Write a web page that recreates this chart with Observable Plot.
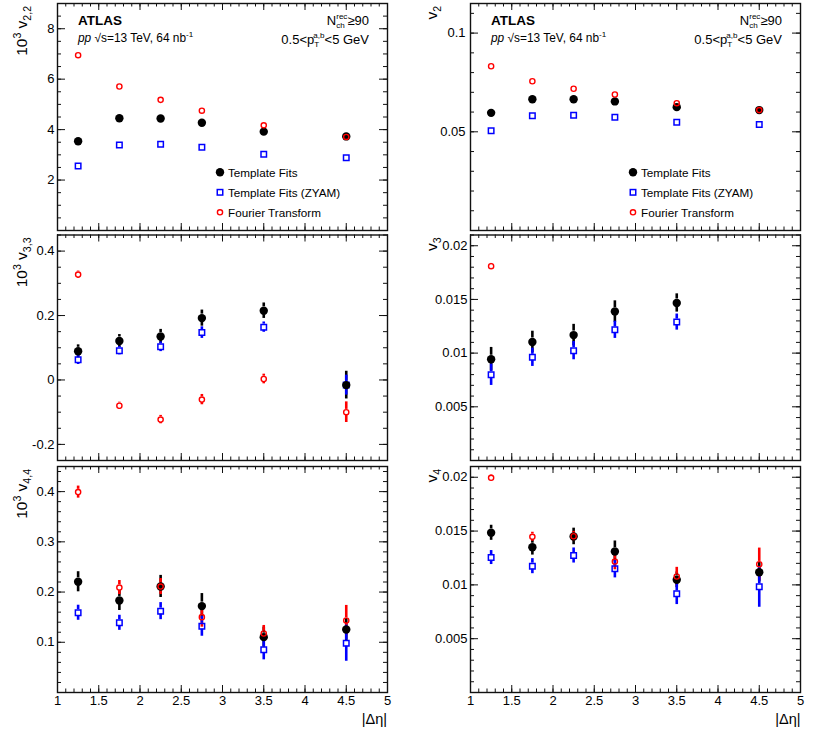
<!DOCTYPE html>
<html>
<head>
<meta charset="utf-8">
<script src="https://cdn.jsdelivr.net/npm/d3@7"></script>
<script src="https://cdn.jsdelivr.net/npm/@observablehq/plot@0.6"></script>
<style>
  html, body { margin: 0; padding: 0; background: #fff; }
  #chart { position: relative; width: 830px; height: 744px; overflow: hidden; }
  #chart > svg.panel { position: absolute; }
  #overlay { position: absolute; left: 0; top: 0; pointer-events: none; }
</style>
</head>
<body>
<div id="chart"></div>
<script>
// ---------------- data ----------------
const deta = [1.25, 1.75, 2.25, 2.75, 3.5, 4.5];

// 10^3 v_{2,2}
const v22_tf   = [3.54, 4.45, 4.44, 4.27, 3.92, 3.73];
const v22_zyam = [2.56, 3.39, 3.42, 3.30, 3.02, 2.88];
const v22_ft   = [6.95, 5.71, 5.18, 4.75, 4.17, 3.71];

// v_2
const v2_tf   = [0.0596, 0.0665, 0.0665, 0.0654, 0.0625, 0.0610];
const v2_zyam = [0.0505, 0.0581, 0.0584, 0.0574, 0.0549, 0.0537];
const v2_ft   = [0.0832, 0.0756, 0.0718, 0.0689, 0.0645, 0.0610];

// 10^3 v_{3,3}
const v33_tf       = [0.089, 0.121, 0.135, 0.192, 0.215, -0.016];
const v33_tf_err   = [0.020, 0.020, 0.022, 0.025, 0.024, 0.043];
const v33_zyam     = [0.063, 0.091, 0.103, 0.147, 0.164, -0.016];
const v33_zyam_err = [0.015, 0.013, 0.015, 0.018, 0.016, 0.031];
const v33_ft       = [0.327, -0.080, -0.123, -0.061, 0.003, -0.100];
const v33_ft_err   = [0.011, 0.011, 0.013, 0.016, 0.015, 0.032];

// v_3
const v3_tf       = [0.00943, 0.01104, 0.01168, 0.01387, 0.01467, null];
const v3_tf_err   = [0.0011, 0.0010, 0.0010, 0.0010, 0.00085, null];
const v3_zyam     = [0.00799, 0.00961, 0.01023, 0.01217, 0.01289, null];
const v3_zyam_err = [0.0010, 0.00085, 0.00085, 0.0008, 0.00075, null];
const v3_ft       = [0.01809, null, null, null, null, null];
const v3_ft_err   = [0.0002, null, null, null, null, null];

// 10^3 v_{4,4}
const v44_tf       = [0.2205, 0.1833, 0.2112, 0.1720, 0.1102, 0.1255];
const v44_tf_err   = [0.020, 0.020, 0.022, 0.025, 0.020, 0.022];
const v44_zyam     = [0.1588, 0.1388, 0.1620, 0.1320, 0.0850, 0.0982];
const v44_zyam_err = [0.015, 0.015, 0.017, 0.020, 0.020, 0.036];
const v44_ft       = [0.399, 0.209, 0.211, 0.150, 0.1175, 0.1434];
const v44_ft_err   = [0.012, 0.014, 0.016, 0.020, 0.016, 0.030];

// v_4
const v4_tf       = [0.01484, 0.01350, 0.01450, 0.01310, 0.01047, 0.01118];
const v4_tf_err   = [0.0007, 0.00073, 0.00077, 0.00098, 0.00073, 0.0009];
const v4_zyam     = [0.01254, 0.01174, 0.01273, 0.01150, 0.00917, 0.00982];
const v4_zyam_err = [0.00065, 0.0007, 0.0007, 0.00085, 0.0010, 0.0019];
const v4_ft       = [0.01995, 0.01447, 0.01452, 0.01217, 0.01078, 0.01192];
const v4_ft_err   = [0.0003, 0.00042, 0.00045, 0.00077, 0.00085, 0.0015];

// tick labels
const xTicks   = [1, 1.5, 2, 2.5, 3, 3.5, 4, 4.5, 5];
const yLab_v22 = [2, 4, 6, 8];
const yLab_v2  = [0.05, 0.1];
const yLab_v33 = [-0.2, 0, 0.2, 0.4];
const yLab_v3  = [0.005, 0.01, 0.015, 0.02];
const yLab_v44 = [0.1, 0.2, 0.3, 0.4];
const yLab_v4  = [0.005, 0.01, 0.015, 0.02];

const legendLabels = ["Template Fits", "Template Fits (ZYAM)", "Fourier Transform"];

// ---------------- helpers ----------------
const FONT = "'Liberation Sans', Arial, Helvetica, sans-serif";
const rng = (a, b, s) => d3.range(a, b + s / 1000, s).map(v => +v.toFixed(6));
const xMinor = rng(1, 5, 0.1);

function rows(vals, errs) {
  return deta.map((x, i) => ({x, y: vals[i], e: errs ? errs[i] : 0}))
             .filter(d => d.y != null);
}

const STYLE = {
  tf:   {color: "#000", gap: 4.0},
  zyam: {color: "#0000ff", gap: 3.0},
  ft:   {color: "#ff0000", gap: 2.8}
};

const panels = [
  {col: 0, row: 0, domain: [0, 9], labels: yLab_v22, major: [0, 2, 4, 6, 8], minor: rng(0, 9, 0.5),
   tf: rows(v22_tf), zyam: rows(v22_zyam), ft: rows(v22_ft),
   ylab: [["10"], ["3", "sup"], [" v"], ["2,2", "sub"]]},
  {col: 1, row: 0, domain: [0, 0.115], labels: yLab_v2, major: [0, 0.05, 0.1], minor: rng(0, 0.11, 0.01),
   tf: rows(v2_tf), zyam: rows(v2_zyam), ft: rows(v2_ft),
   ylab: [["v"], ["2", "sub"]]},
  {col: 0, row: 1, domain: [-0.25, 0.45], labels: yLab_v33, major: [-0.2, 0, 0.2, 0.4], minor: rng(-0.25, 0.45, 0.05),
   tf: rows(v33_tf, v33_tf_err), zyam: rows(v33_zyam, v33_zyam_err), ft: rows(v33_ft, v33_ft_err),
   ylab: [["10"], ["3", "sup"], [" v"], ["3,3", "sub"]]},
  {col: 1, row: 1, domain: [0, 0.021], labels: yLab_v3, major: [0, 0.005, 0.01, 0.015, 0.02], minor: rng(0, 0.021, 0.001),
   tf: rows(v3_tf, v3_tf_err), zyam: rows(v3_zyam, v3_zyam_err), ft: rows(v3_ft, v3_ft_err),
   ylab: [["v"], ["3", "sub"]]},
  {col: 0, row: 2, domain: [0, 0.45], labels: yLab_v44, major: [0, 0.1, 0.2, 0.3, 0.4], minor: rng(0, 0.44, 0.02),
   tf: rows(v44_tf, v44_tf_err), zyam: rows(v44_zyam, v44_zyam_err), ft: rows(v44_ft, v44_ft_err),
   ylab: [["10"], ["3", "sup"], [" v"], ["4,4", "sub"]]},
  {col: 1, row: 2, domain: [0, 0.021], labels: yLab_v4, major: [0, 0.005, 0.01, 0.015, 0.02], minor: rng(0, 0.021, 0.001),
   tf: rows(v4_tf, v4_tf_err), zyam: rows(v4_zyam, v4_zyam_err), ft: rows(v4_ft, v4_ft_err),
   ylab: [["v"], ["4", "sub"]]}
];

// layout (pixels)
const COL_LEFT = [0, 413];
const ROWS = [
  {top: 0,   height: 232, mt: 3,   mb: 2},
  {top: 232, height: 230, mt: 2.5, mb: 2},
  {top: 462, height: 282, mt: 4,   mb: 52}
];
const ML = 57, MR = 13, SVGW = 400;
const FRAME_W = SVGW - ML - MR;

// inward ticks on all four sides: tick marks spanning the frame, inset to a short length
function tickMarksY(values, len) {
  const base = {y: d => d, stroke: "#111", strokeWidth: 1};
  return [
    Plot.tickY(values, {...base, insetRight: FRAME_W - len}),
    Plot.tickY(values, {...base, insetLeft: FRAME_W - len})
  ];
}
function tickMarksX(values, len, frameH) {
  const base = {x: d => d, stroke: "#111", strokeWidth: 1};
  return [
    Plot.tickX(values, {...base, insetTop: frameH - len}),
    Plot.tickX(values, {...base, insetBottom: frameH - len})
  ];
}

function errBars(data, key) {
  const {color, gap} = STYLE[key];
  const d = data.filter(r => r.e > 0);
  const common = {x: "x", stroke: color, strokeWidth: 2.6};
  return [
    Plot.ruleX(d, {...common, y1: r => r.y + r.e, y2: "y", insetBottom: gap}),
    Plot.ruleX(d, {...common, y1: "y", y2: r => r.y - r.e, insetTop: gap})
  ];
}

const chart = document.getElementById("chart");

for (const p of panels) {
  const R = ROWS[p.row];
  const frameH = R.height - R.mt - R.mb;
  const showX = p.row === 2;
  const marks = [
    ...tickMarksY(p.minor, 4),
    ...tickMarksY(p.major, 8),
    ...tickMarksX(xMinor, 3.5, frameH),
    ...tickMarksX(xTicks, 7, frameH),
    Plot.frame({stroke: "#111", strokeWidth: 1.4}),
    Plot.axisY({anchor: "left", ticks: p.labels, tickSize: 0, tickPadding: p.col === 1 && p.row === 0 ? 5 : 3,
                tickFormat: d => String(d), label: null, fontSize: 13}),
    showX ? Plot.axisX({anchor: "bottom", ticks: xTicks, tickSize: 0, tickPadding: 3,
                        tickFormat: d => String(d), label: null, fontSize: 13}) : null,
    // error bars: black, red, blue
    ...errBars(p.tf, "tf"),
    ...errBars(p.ft, "ft"),
    ...errBars(p.zyam, "zyam"),
    // markers: blue squares, black dots, red circles
    Plot.dot(p.zyam, {x: "x", y: "y", symbol: "square", r: 3.1, stroke: STYLE.zyam.color, strokeWidth: 1.5, fill: "none"}),
    Plot.dot(p.tf,   {x: "x", y: "y", r: 4.2, fill: STYLE.tf.color, stroke: "none"}),
    Plot.dot(p.ft,   {x: "x", y: "y", r: 2.6, stroke: STYLE.ft.color, strokeWidth: 1.4, fill: "none"})
  ];
  const svg = Plot.plot({
    width: SVGW, height: R.height,
    marginLeft: ML, marginRight: MR, marginTop: R.mt, marginBottom: R.mb,
    x: showX ? {domain: [1, 5]} : {domain: [1, 5], axis: null},
    y: {domain: p.domain},
    style: {fontFamily: FONT, fontSize: "13px", color: "#000", background: "transparent", overflow: "visible"},
    marks
  });
  svg.classList.add("panel");
  svg.style.left = COL_LEFT[p.col] + "px";
  svg.style.top = R.top + "px";
  chart.appendChild(svg);
}

// ---------------- overlay text ----------------
const NS = "http://www.w3.org/2000/svg";
const ov = document.createElementNS(NS, "svg");
ov.setAttribute("id", "overlay");
ov.setAttribute("width", 830);
ov.setAttribute("height", 744);
ov.setAttribute("font-family", FONT);
chart.appendChild(ov);

// parts: [text, mode] with mode undefined | "sup" | "sub" | "italic" | "stack"(sub, sup)
function richText({x, y, parts, size, anchor = "start", rotate = 0, weight = "normal", italic = false}) {
  const t = document.createElementNS(NS, "text");
  t.setAttribute("transform", `translate(${x},${y}) rotate(${rotate})`);
  t.setAttribute("font-size", size);
  t.setAttribute("text-anchor", anchor);
  t.setAttribute("font-weight", weight);
  if (italic) t.setAttribute("font-style", "italic");
  t.setAttribute("fill", "#000");
  ov.appendChild(t);
  let shift = 0;
  const small = size * 0.68, tiny = size * 0.62;
  const SUP = -size * 0.42, SUB = size * 0.28;
  let pendingDx = 0;
  const add = (str, fs, target, dx = 0, it = null) => {
    const s = document.createElementNS(NS, "tspan");
    s.textContent = str;
    s.setAttribute("font-size", fs);
    s.setAttribute("dy", (target - shift).toFixed(2));
    if (dx + pendingDx) s.setAttribute("dx", (dx + pendingDx).toFixed(2));
    pendingDx = 0;
    if (it) s.setAttribute("font-style", it);
    shift = target;
    t.appendChild(s);
    return s;
  };
  for (const part of parts) {
    const [str, mode, extra] = part;
    if (mode === "sup") add(str, small, SUP);
    else if (mode === "sub") add(str, small, SUB);
    else if (mode === "stack") {
      const a = add(str, tiny, size * 0.30);
      const wa = a.getComputedTextLength();
      const b = add(extra, tiny, -size * 0.45, -wa);
      const wb = b.getComputedTextLength();
      if (wa > wb) pendingDx = wa - wb;
    } else if (mode === "italic") add(str, size, 0, 0, "italic");
    else add(str, size, 0, 0, "normal");
  }
  return t;
}

const COLX = [57, 470];
const ROWY = [3, 234.5, 466];

// y-axis titles
for (const p of panels) {
  const x = p.col === 0 ? 27 : 437;
  richText({x, y: ROWY[p.row] + 3, parts: p.ylab, size: 15.5, anchor: "end", rotate: -90});
}

// x-axis titles
for (const c of [0, 1]) {
  const xr = c === 0 ? 387 : 800.5;
  richText({x: xr, y: 724, parts: [["|Δη|"]], size: 14.5, anchor: "end"});
}

// header and legend in top panels
for (const c of [0, 1]) {
  const x0 = COLX[c];
  richText({x: x0 + 21, y: 25, parts: [["ATLAS"]], size: 13.5, weight: "bold", italic: true});
  richText({x: x0 + 21, y: 42, parts: [["pp", "italic"], [" √s=13 TeV, 64 nb"], ["-1", "sup"]], size: 11.9});
  richText({x: x0 + 312, y: 24.5, parts: [["N"], ["ch", "stack", "rec"], ["≥90"]], size: 13, anchor: "end"});
  richText({x: x0 + 312, y: 43.5, parts: [["0.5<p"], ["T", "stack", "a,b"], ["<5 GeV"]], size: 13, anchor: "end"});

  const lx = x0 + 163;
  const ly = [172.3, 192.3, 212.3];
  // legend symbols
  const c1 = document.createElementNS(NS, "circle");
  c1.setAttribute("cx", lx); c1.setAttribute("cy", ly[0]); c1.setAttribute("r", 4.2); c1.setAttribute("fill", "#000");
  ov.appendChild(c1);
  const sq = document.createElementNS(NS, "rect");
  sq.setAttribute("x", lx - 2.75); sq.setAttribute("y", ly[1] - 2.75); sq.setAttribute("width", 5.5); sq.setAttribute("height", 5.5);
  sq.setAttribute("fill", "none"); sq.setAttribute("stroke", "#0000ff"); sq.setAttribute("stroke-width", 1.5);
  ov.appendChild(sq);
  const c3 = document.createElementNS(NS, "circle");
  c3.setAttribute("cx", lx); c3.setAttribute("cy", ly[2]); c3.setAttribute("r", 2.6); c3.setAttribute("fill", "none");
  c3.setAttribute("stroke", "#ff0000"); c3.setAttribute("stroke-width", 1.4);
  ov.appendChild(c3);
  legendLabels.forEach((lab, i) => {
    richText({x: lx + 8, y: ly[i] + 4.2, parts: [[lab]], size: 11.7});
  });
}
</script>
</body>
</html>
